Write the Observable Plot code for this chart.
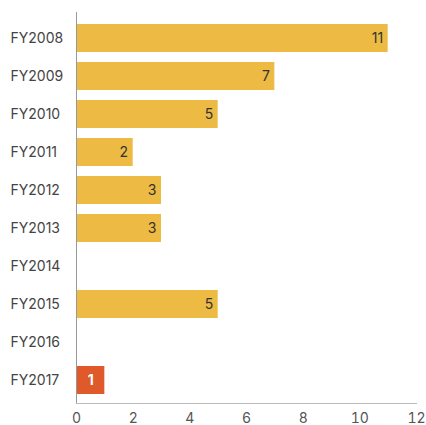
<!DOCTYPE html>
<html><head><meta charset="utf-8">
<script src="https://cdn.jsdelivr.net/npm/d3@7"></script>
<script src="https://cdn.jsdelivr.net/npm/@observablehq/plot@0.6"></script>
<style>body{margin:0;background:#fff;font-family:Inter,"Open Sans",sans-serif}</style>
</head><body><div id="chart"></div>
<script>
const years = ["FY2008","FY2009","FY2010","FY2011","FY2012","FY2013","FY2014","FY2015","FY2016","FY2017"];
const counts = [11,7,5,2,3,3,0,5,0,1];
const highlight = [false,false,false,false,false,false,false,false,false,true];
const xTicks = [0,2,4,6,8,10,12];

const data = years.map((y,i)=>({year:y, value:counts[i], hi:highlight[i]}));
const bars = data.filter(d=>d.value>0);

const chart = Plot.plot({
  width: 426, height: 425,
  marginLeft: 76, marginRight: 10, marginTop: 12, marginBottom: 22,
  style: {fontFamily: "Inter, 'Open Sans', sans-serif", fontSize: "14px", background: "#fff"},
  x: {domain: [0,12], ticks: xTicks, tickSize: 0, label: null},
  y: {domain: years, paddingInner: 0.27, paddingOuter: 0.135, insetTop: 5, insetBottom: 3, label: null, axis: null},
  marks: [
    Plot.barX(bars, {y: "year", x: "value", fill: d => d.hi ? "#E0592A" : "#EDBA43"}),
    Plot.frame({anchor: "left", stroke: "#999"}),
    Plot.frame({anchor: "bottom", stroke: "#bbb"}),
    Plot.axisX({ticks: xTicks, tickSize: 0, tickPadding: 10, fill: "#555", fontSize: 14, label: null}),
    Plot.text(years, {y: d => d, frameAnchor: "left", dx: -66, textAnchor: "start", fill: "#444", fontSize: 14, letterSpacing: "0.3px"}),
    Plot.text(bars.filter(d=>!d.hi), {y: "year", x: "value", text: d => String(d.value), textAnchor: "end", dx: -5, fill: "#333", fontSize: 14}),
    Plot.text(bars.filter(d=>d.hi), {y: "year", x: d => d.value/2, text: d => String(d.value), fill: "#fff", fontSize: 14, fontWeight: "bold"})
  ]
});
document.getElementById("chart").append(chart);
</script></body></html>
